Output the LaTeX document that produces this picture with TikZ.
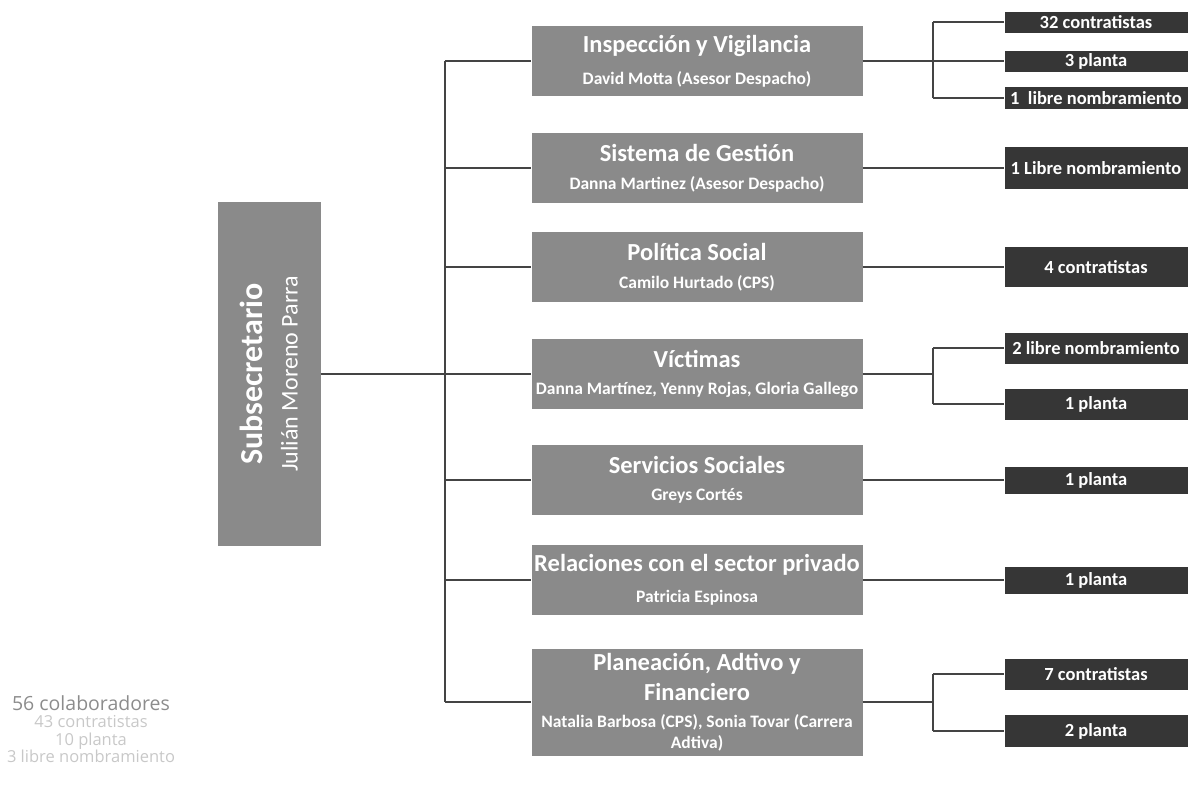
\documentclass[tikz,border=0pt]{standalone}
\usepackage{fontspec}
\setmainfont{Carlito}
\newfontfamily\legendfont{Open Sans}
\usepackage{tikz}
\usetikzlibrary{positioning}
\usepackage{xcolor}
\definecolor{areagray}{HTML}{8A8A8A}
\definecolor{staffdark}{HTML}{363636}
\definecolor{linkgray}{HTML}{444444}
\definecolor{legendgray}{HTML}{8C8C8C}
\definecolor{legendlight}{HTML}{C8C8C8}
\newcommand{\areahead}[1]{{\fontsize{24.5}{30}\selectfont #1}}
\newcommand{\areanote}[1]{{\fontsize{17.5}{19}\selectfont #1}}

\begin{document}
\begin{tikzpicture}[x=1pt, y=-1pt, font=\bfseries, node distance=0pt]
\tikzstyle{area} = [fill=areagray, text=white, align=center, minimum width=331pt, minimum height=70pt, inner sep=0pt]
\tikzstyle{staff} = [fill=staffdark, text=white, minimum width=183pt, inner sep=0pt, font=\fontsize{18.5}{20}\selectfont\bfseries]
\tikzstyle{link} = [line width=1.4pt, draw=linkgray]
\tikzstyle{legend} = [inner sep=0pt, text height=11pt, text depth=4pt, font=\legendfont\fontsize{16.5}{18}\selectfont, text=legendlight]

\useasboundingbox (0,0) rectangle (1190,788);

\node[fill=areagray, text=white, rotate=90, align=center, minimum width=344pt, minimum height=103pt] (sub) at (269,374)
  {{\fontsize{32}{36}\selectfont Subsecretario}\\[17pt]{\fontsize{24}{28}\selectfont\mdseries Julián Moreno Parra}};

% areas
\node[area] (ins) at (697,61) {\areahead{Inspección y Vigilancia}\\[14pt]\areanote{David Motta (Asesor Despacho)}};
\node[area] (ges) at (697,168) {\areahead{Sistema de Gestión}\\[14pt]\areanote{Danna Martinez (Asesor Despacho)}};
\node[area] (pol) at (697,267) {\areahead{Política Social}\\[14pt]\areanote{Camilo Hurtado (CPS)}};
\node[area] (vic) at (697,374) {\areahead{Víctimas}\\[14pt]\areanote{Danna Martínez, Yenny Rojas, Gloria Gallego}};
\node[area] (ser) at (697,480) {\areahead{Servicios Sociales}\\[14pt]\areanote{Greys Cortés}};
\node[area] (rel) at (697,580) {\areahead{Relaciones con el sector privado}\\[14pt]\areanote{Patricia Espinosa}};
\node[area, minimum height=107pt] (pla) at (697,702) {\areahead{Planeación, Adtivo y}\\[8pt]\areahead{Financiero}\\[13pt]\areanote{Natalia Barbosa (CPS), Sonia Tovar (Carrera}\\[4pt]\areanote{Adtiva)}};

% staff
\node[staff, minimum height=21pt] (con32) at (1096,22) {32 contratistas};
\node[staff, minimum height=21pt] (pla3) at (1096,61) {3 planta};
\node[staff, minimum height=22pt] (lib1) at (1096,98) {1~ libre nombramiento};
\node[staff, minimum height=42pt] (libg) at (1096,168) {1 Libre nombramiento};
\node[staff, minimum height=40pt] (con4) at (1096,267) {4 contratistas};
\node[staff, minimum height=31pt] (lib2) at (1096,348) {2 libre nombramiento};
\node[staff, minimum height=31pt] (plav) at (1096,404) {1 planta};
\node[staff, minimum height=27pt] (plas) at (1096,480) {1 planta};
\node[staff, minimum height=27pt] (plar) at (1096,580) {1 planta};
\node[staff, minimum height=31pt] (con7) at (1096,674) {7 contratistas};
\node[staff, minimum height=32pt] (pla2) at (1096,731) {2 planta};

% legend
\node[inner sep=0pt, text height=14pt, text depth=5pt, font=\legendfont\fontsize{19.5}{22}\selectfont, text=legendgray] (total) at (91,706) {56 colaboradores};
\node[legend, below=1pt of total] (ncon) {43 contratistas};
\node[legend, below=2pt of ncon] (npla) {10 planta};
\node[legend, below=2pt of npla] (nlib) {3 libre nombramiento};

% links
\coordinate (bus) at (445,374);
\coordinate (rbus) at (933,0);
\draw[link] (sub.south) -- (vic.west);
\draw[link] (bus |- ins.west) -- (bus |- pla.west);
\foreach \n in {ins,ges,pol,ser,rel,pla}
  \draw[link] (bus |- \n.west) -- (\n.west);

\draw[link] (ins.east) -- (rbus |- ins.east);
\draw[link] (rbus |- con32.west) -- (rbus |- lib1.west);
\foreach \n in {con32,pla3,lib1}
  \draw[link] (rbus |- \n.west) -- (\n.west);
\draw[link] (ges.east) -- (libg.west);
\draw[link] (pol.east) -- (con4.west);
\draw[link] (vic.east) -- (rbus |- vic.east);
\draw[link] (rbus |- lib2.west) -- (rbus |- plav.west);
\foreach \n in {lib2,plav}
  \draw[link] (rbus |- \n.west) -- (\n.west);
\draw[link] (ser.east) -- (plas.west);
\draw[link] (rel.east) -- (plar.west);
\draw[link] (pla.east) -- (rbus |- pla.east);
\draw[link] (rbus |- con7.west) -- (rbus |- pla2.west);
\foreach \n in {con7,pla2}
  \draw[link] (rbus |- \n.west) -- (\n.west);
\end{tikzpicture}
\end{document}
